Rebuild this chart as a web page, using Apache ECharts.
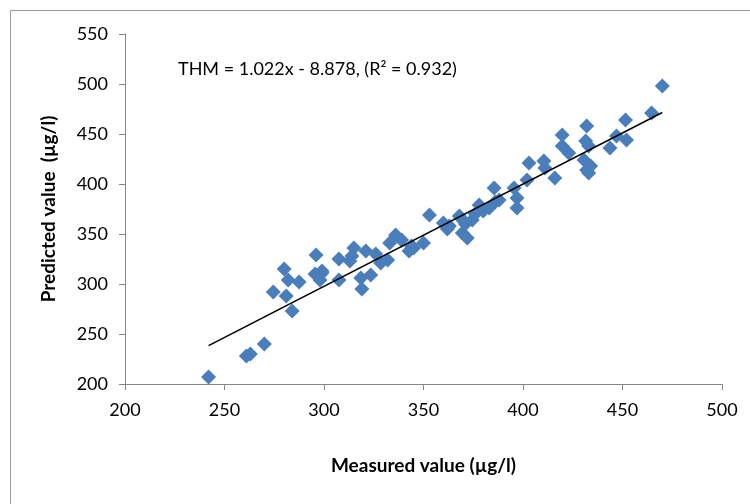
<!DOCTYPE html>
<html>
<head>
<meta charset="utf-8">
<script src="https://cdn.jsdelivr.net/npm/echarts@6/dist/echarts.min.js"></script>
<style>html,body{margin:0;padding:0;background:#fff;}#c{width:750px;height:504px;}</style>
</head>
<body>
<div id="c"></div>
<script>
const measured = [242, 261, 263, 270, 274.5, 280, 282, 281, 284, 287.5, 296, 295.5, 299, 298, 299,
  307.5, 307.5, 315, 314, 321, 318.5, 319, 323.5, 328.5, 332, 333, 336, 339, 342.7, 345, 350, 353, 360, 362, 368,
  363, 368.7, 369.5, 372, 374.5, 378, 380, 383, 385.5, 388, 395.5, 397, 397, 402, 403, 410.5, 411, 416,
  419.7, 419.7, 423, 431.5, 432, 432, 433, 430.7, 434, 433, 443.7, 447, 451.5, 452, 464.6, 470,
  313, 326, 344, 371, 376, 386];
const predicted = [207, 228, 230, 240, 292, 315, 304, 288, 273, 302, 329, 310, 313, 304, 311,
  325, 304, 336, 328, 333, 306, 295, 309, 321, 324, 341, 349, 344, 333, 336, 341, 369, 361, 355, 368,
  358, 366, 351, 346, 364, 379, 373, 376, 396, 384, 396, 386, 376, 404, 421, 423, 416, 406,
  449, 438, 431, 443, 458, 414, 438, 424, 418, 411, 436, 448, 464, 444, 471, 498,
  323, 330, 338, 360, 370, 382];
const slope = 1.022, intercept = -8.878;
const equationText = 'THM = 1.022x - 8.878, (R\u00B2 = 0.932)';
const xTicks = {min: 200, max: 500, interval: 50};
const yTicks = {min: 200, max: 550, interval: 50};
const xName = 'Measured value (\u00B5g/l)';
const yName = 'Predicted value  (\u00B5g/l)';

const pts = measured.map((x, i) => [x, predicted[i]]);
const xMin = Math.min(...measured), xMax = Math.max(...measured);
const trend = [[xMin, slope * xMin + intercept], [xMax, slope * xMax + intercept]];

const font = 'Lato, "Open Sans", sans-serif';
const axisColor = '#868686';
const chart = echarts.init(document.getElementById('c'));
chart.setOption({
  animation: false,
  backgroundColor: '#fff',
  grid: {left: 125, right: 28, top: 34, bottom: 120},
  xAxis: {
    type: 'value', min: xTicks.min, max: xTicks.max, interval: xTicks.interval,
    name: xName, nameLocation: 'middle', nameGap: 72,
    nameTextStyle: {fontFamily: font, fontSize: 19, fontWeight: 'bold', color: '#000'},
    axisLine: {show: true, lineStyle: {color: axisColor, width: 1}},
    axisTick: {show: true, length: 6, lineStyle: {color: axisColor}},
    axisLabel: {fontFamily: font, fontSize: 18, color: '#000', margin: 17},
    splitLine: {show: false}
  },
  yAxis: {
    type: 'value', min: yTicks.min, max: yTicks.max, interval: yTicks.interval,
    name: yName, nameLocation: 'middle', nameGap: 67,
    nameTextStyle: {fontFamily: font, fontSize: 19, fontWeight: 'bold', color: '#000'},
    axisLine: {show: true, lineStyle: {color: axisColor, width: 1}},
    axisTick: {show: true, length: 6, lineStyle: {color: axisColor}},
    axisLabel: {fontFamily: font, fontSize: 18, color: '#000', margin: 17},
    splitLine: {show: false}
  },
  graphic: [
    {type: 'rect', left: 8, top: 8, shape: {width: 800, height: 600},
     style: {fill: 'none', stroke: '#9a9a9a', lineWidth: 1}, silent: true, z: -10},
    {type: 'text', left: 178, top: 60,
     style: {text: equationText, fontFamily: font, fontSize: 18, fill: '#000'}}
  ],
  series: [
    {type: 'scatter', data: pts, symbol: 'diamond', symbolSize: 15,
     itemStyle: {color: '#4A7EBB', opacity: 1}, z: 2},
    {type: 'line', data: trend, symbol: 'none', lineStyle: {color: '#000', width: 1.5}, z: 3}
  ]
});
</script>
</body>
</html>
